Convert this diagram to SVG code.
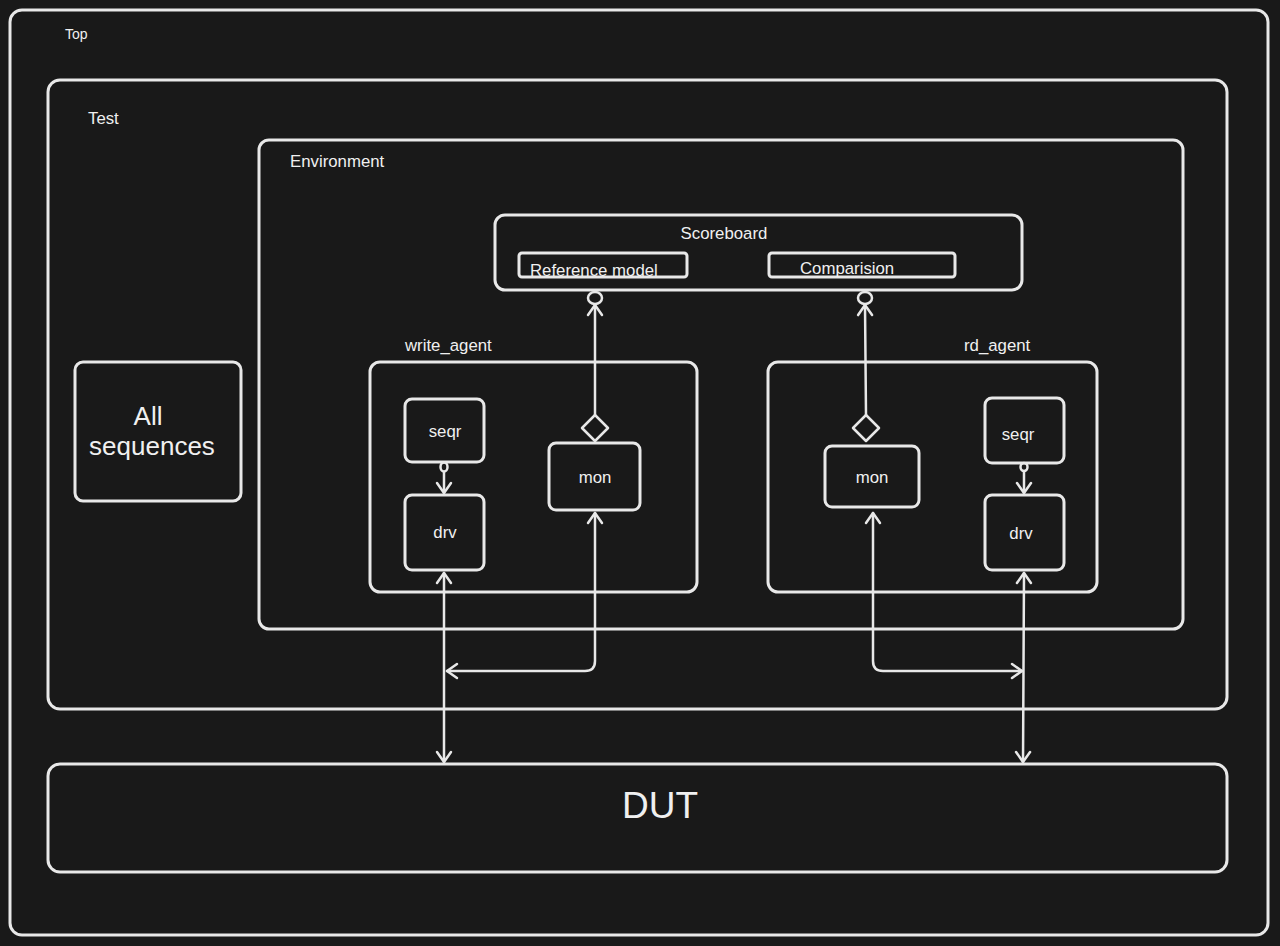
<svg xmlns="http://www.w3.org/2000/svg" width="1280" height="946" viewBox="0 0 1280 946">
<style>
.box{fill:none;stroke:#e8e8e8;stroke-width:3;stroke-linejoin:round}
.ln{fill:none;stroke:#e8e8e8;stroke-width:2.5;stroke-linecap:round;stroke-linejoin:round}
text{font-family:"Liberation Sans",Arial,sans-serif;fill:#f0f0f0}
.s16{font-size:16.8px}
.s14{font-size:14px}
.mid{text-anchor:middle}
</style>
<defs>
<marker id="arr" viewBox="-14 -10 16 20" refX="0" refY="0" markerWidth="16" markerHeight="20" markerUnits="userSpaceOnUse" orient="auto-start-reverse" overflow="visible">
<path d="M-10,-7 L0,0 L-10,7" fill="none" stroke="#e8e8e8" stroke-width="2.5" stroke-linecap="round" stroke-linejoin="round"/>
</marker>
</defs>
<rect width="1280" height="946" fill="#191919"/>
<g id="top"><rect class="box" x="10" y="10" width="1258" height="925" rx="12"/><text class="s14" x="65" y="39">Top</text></g>
<g id="test"><rect class="box" x="48" y="80" width="1179" height="629" rx="12"/><text class="s16" x="88" y="124">Test</text></g>
<g id="environment"><rect class="box" x="259" y="140" width="924" height="489" rx="10"/><text class="s16" x="290" y="167">Environment</text></g>
<g id="scoreboard"><rect class="box" x="495" y="215" width="527" height="75" rx="10"/><text class="s16 mid" x="724" y="239">Scoreboard</text></g>
<g id="refmodel"><rect class="box" x="519" y="253" width="168" height="24" rx="3"/><text class="s16" x="530" y="276">Reference model</text></g>
<g id="comparision"><rect class="box" x="769" y="253" width="186" height="24" rx="3"/><text class="s16" x="800" y="274">Comparision</text></g>
<g id="write_agent"><rect class="box" x="370" y="362" width="327" height="230" rx="10"/><text class="s16" x="405" y="351">write_agent</text></g>
<g id="w_seqr"><rect class="box" x="405" y="399" width="79" height="63" rx="7"/><text class="s16 mid" x="445" y="437">seqr</text></g>
<g id="w_drv"><rect class="box" x="405" y="495" width="79" height="75" rx="7"/><text class="s16 mid" x="445" y="538">drv</text></g>
<g id="w_mon"><rect class="box" x="549" y="443" width="91" height="67" rx="7"/><text class="s16 mid" x="595" y="483">mon</text></g>
<g id="rd_agent"><rect class="box" x="768" y="362" width="329" height="230" rx="10"/><text class="s16" x="964" y="351">rd_agent</text></g>
<g id="r_mon"><rect class="box" x="825" y="446" width="94" height="61" rx="7"/><text class="s16 mid" x="872" y="483">mon</text></g>
<g id="r_seqr"><rect class="box" x="985" y="398" width="79" height="65" rx="7"/><text class="s16 mid" x="1018" y="440">seqr</text></g>
<g id="r_drv"><rect class="box" x="985" y="495" width="79" height="75" rx="7"/><text class="s16 mid" x="1021" y="539">drv</text></g>
<g id="all_sequences"><rect class="box" x="75" y="362" width="166" height="139" rx="8"/><text class="mid" font-size="26" x="148" y="425">All</text><text class="mid" font-size="26" x="152" y="455">sequences</text></g>
<g id="dut"><rect class="box" x="48" y="764" width="1179" height="108" rx="12"/><text class="mid" font-size="37" x="660" y="818">DUT</text></g>
<g id="connectors">
<path class="ln" d="M595,415 L595,305" marker-end="url(#arr)"/>
<polygon class="ln" points="595,415 608,428 595,441 582,428"/>
<ellipse class="ln" cx="595" cy="298" rx="7" ry="6"/>
<path class="ln" d="M866,415 L865,305" marker-end="url(#arr)"/>
<polygon class="ln" points="866,415 879,428 866,441 853,428"/>
<ellipse class="ln" cx="865" cy="298" rx="7" ry="6"/>
<ellipse class="ln" cx="444" cy="467" rx="3.5" ry="4.5"/>
<path class="ln" d="M444,472 L444,493" marker-end="url(#arr)"/>
<ellipse class="ln" cx="1024" cy="467" rx="3.5" ry="4"/>
<path class="ln" d="M1024,471 L1024,493" marker-end="url(#arr)"/>
<path class="ln" d="M444,573 L444,762" marker-start="url(#arr)" marker-end="url(#arr)"/>
<path class="ln" d="M1024,573 L1023,762" marker-start="url(#arr)" marker-end="url(#arr)"/>
<path class="ln" d="M595,513 L595,661 Q595,671 585,671 L447,671" marker-start="url(#arr)" marker-end="url(#arr)"/>
<path class="ln" d="M873,513 L873,661 Q873,671 883,671 L1022,671" marker-start="url(#arr)" marker-end="url(#arr)"/>
</g>
</svg>
